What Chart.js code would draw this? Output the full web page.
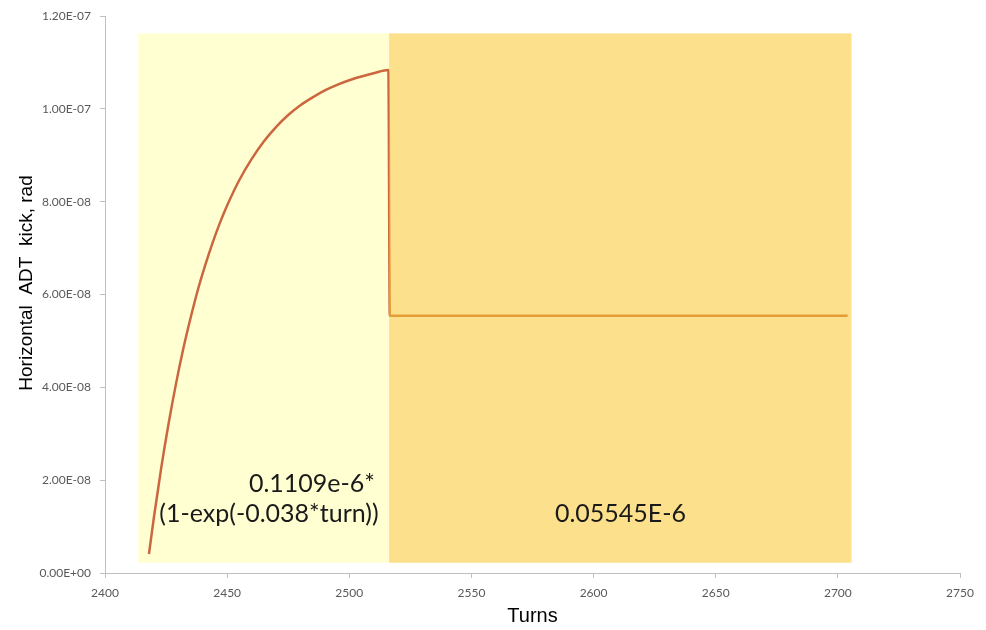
<!DOCTYPE html>
<html>
<head>
<meta charset="utf-8">
<script src="https://cdn.jsdelivr.net/npm/chart.js@4/dist/chart.umd.min.js"></script>
<style>
html,body{margin:0;padding:0;background:#fff;}
#wrap{width:986px;height:630px;position:relative;}
</style>
</head>
<body>
<div id="wrap"><canvas id="c" width="986" height="630"></canvas></div>
<script>
// ---- data ----
const turns = [2418, 2420, 2423, 2426, 2429, 2432, 2435, 2438, 2441, 2444, 2447, 2450, 2455, 2460, 2465, 2470, 2475, 2480, 2485, 2490, 2495, 2500, 2505, 2510, 2516, 2516.6, 2540, 2580, 2620, 2660, 2704];
const kick  = [4.1e-9, 1.19e-8, 2.26e-8, 3.21e-8, 4.06e-8, 4.82e-8, 5.49e-8, 6.1e-8, 6.63e-8, 7.11e-8, 7.54e-8, 7.92e-8, 8.47e-8, 8.92e-8, 9.3e-8, 9.61e-8, 9.87e-8, 1.008e-7, 1.025e-7, 1.04e-7, 1.052e-7, 1.062e-7, 1.07e-7, 1.077e-7, 1.084e-7, 5.545e-8, 5.545e-8, 5.545e-8, 5.545e-8, 5.545e-8, 5.545e-8];

const regionStart  = [2413.6, 2516.3];
const regionEnd    = [2516.3, 2705.6];
const regionBottom = [2.2e-9, 2.2e-9];
const regionTop    = [1.163e-7, 1.163e-7];

const xTicks = [2400, 2450, 2500, 2550, 2600, 2650, 2700, 2750];
const yTicks = [0, 2e-8, 4e-8, 6e-8, 8e-8, 1e-7, 1.2e-7];

const annoText = ['0.1109e-6*', '(1-exp(-0.038*turn))', '0.05545E-6'];
const annoX    = [2510.5, 2512, 2611];
const annoY    = [1.915e-8, 1.274e-8, 1.274e-8];
const annoAlign = ['right', 'right', 'center'];

const xTitle = 'Turns';
const yTitle = 'Horizontal  ADT  kick, rad';

function fmtE(v){
  if (Math.abs(v) < 1e-15) return '0.00E+00';
  let s = v.toExponential(2).toUpperCase();
  const m = s.match(/^(-?[\d.]+)E([+-])(\d+)$/);
  if (!m) return s;
  let e = m[3]; if (e.length < 2) e = '0' + e;
  return m[1] + 'E' + m[2] + e;
}

const regionsPlugin = {
  id: 'regions',
  beforeDatasetsDraw(chart){
    const {ctx, scales:{x, y}} = chart;
    ctx.save();
    ctx.fillStyle = '#FFFFD2';
    const x0 = x.getPixelForValue(regionStart[0]), x1 = x.getPixelForValue(regionEnd[0]);
    const y0 = y.getPixelForValue(regionTop[0]), y1 = y.getPixelForValue(regionBottom[0]);
    ctx.fillRect(x0, y0, x1 - x0, y1 - y0);
    ctx.restore();
  },
  afterDatasetsDraw(chart){
    const {ctx, scales:{x, y}} = chart;
    ctx.save();
    ctx.fillStyle = 'rgba(250,200,50,0.56)';
    const x0 = x.getPixelForValue(regionStart[1]), x1 = x.getPixelForValue(regionEnd[1]);
    const y0 = y.getPixelForValue(regionTop[1]), y1 = y.getPixelForValue(regionBottom[1]);
    ctx.fillRect(x0, y0, x1 - x0, y1 - y0);
    // annotations
    ctx.fillStyle = '#1a1a1a';
    ctx.font = '25px Lato';
    ctx.textBaseline = 'middle';
    for (let i = 0; i < annoText.length; i++){
      ctx.textAlign = annoAlign[i];
      ctx.fillText(annoText[i], x.getPixelForValue(annoX[i]), y.getPixelForValue(annoY[i]));
    }
    ctx.restore();
  },
  afterDraw(chart){
    const {ctx, chartArea} = chart;
    ctx.save();
    ctx.fillStyle = '#000';
    ctx.textAlign = 'center';
    ctx.textBaseline = 'middle';
    ctx.font = '20px "Liberation Sans"';
    ctx.fillText(xTitle, (chartArea.left + chartArea.right) / 2, 616);
    ctx.translate(27, 283);
    ctx.rotate(-Math.PI / 2);
    ctx.font = '19px "Liberation Sans"';
    ctx.fillText(yTitle, 0, 0);
    ctx.restore();
  }
};

const axisColor = '#BFBFBF';
new Chart(document.getElementById('c'), {
  type: 'line',
  data: {
    datasets: [{
      data: turns.map((t, i) => ({x: t, y: kick[i]})),
      borderColor: 'rgb(203,102,62)',
      borderWidth: 2.5,
      pointRadius: 0,
      cubicInterpolationMode: 'monotone',
      fill: false
    }]
  },
  options: {
    responsive: false,
    animation: false,
    events: [],
    layout: {padding: {left: 0, right: 26, top: 10, bottom: 0}},
    plugins: {legend: {display: false}, tooltip: {enabled: false}},
    scales: {
      x: {
        type: 'linear',
        min: 2400, max: 2750,
        afterBuildTicks: s => { s.ticks = xTicks.map(v => ({value: v})); },
        afterFit: s => { s.height = 57; },
        grid: {display: true, drawOnChartArea: false, drawTicks: true, tickLength: 5, color: axisColor},
        border: {display: true, color: axisColor, width: 1},
        ticks: {font: {family: 'Lato', size: 12}, color: '#595959', padding: 8, maxRotation: 0, callback: v => String(v)}
      },
      y: {
        type: 'linear',
        min: 0, max: 1.2e-7,
        afterBuildTicks: s => { s.ticks = yTicks.map(v => ({value: v})); },
        afterFit: s => { s.width = 105; },
        grid: {display: true, drawOnChartArea: false, drawTicks: true, tickLength: 5, color: axisColor},
        border: {display: true, color: axisColor, width: 1},
        ticks: {font: {family: 'Lato', size: 12}, color: '#595959', padding: 9, callback: v => fmtE(v)}
      }
    }
  },
  plugins: [regionsPlugin]
});
</script>
</body>
</html>
